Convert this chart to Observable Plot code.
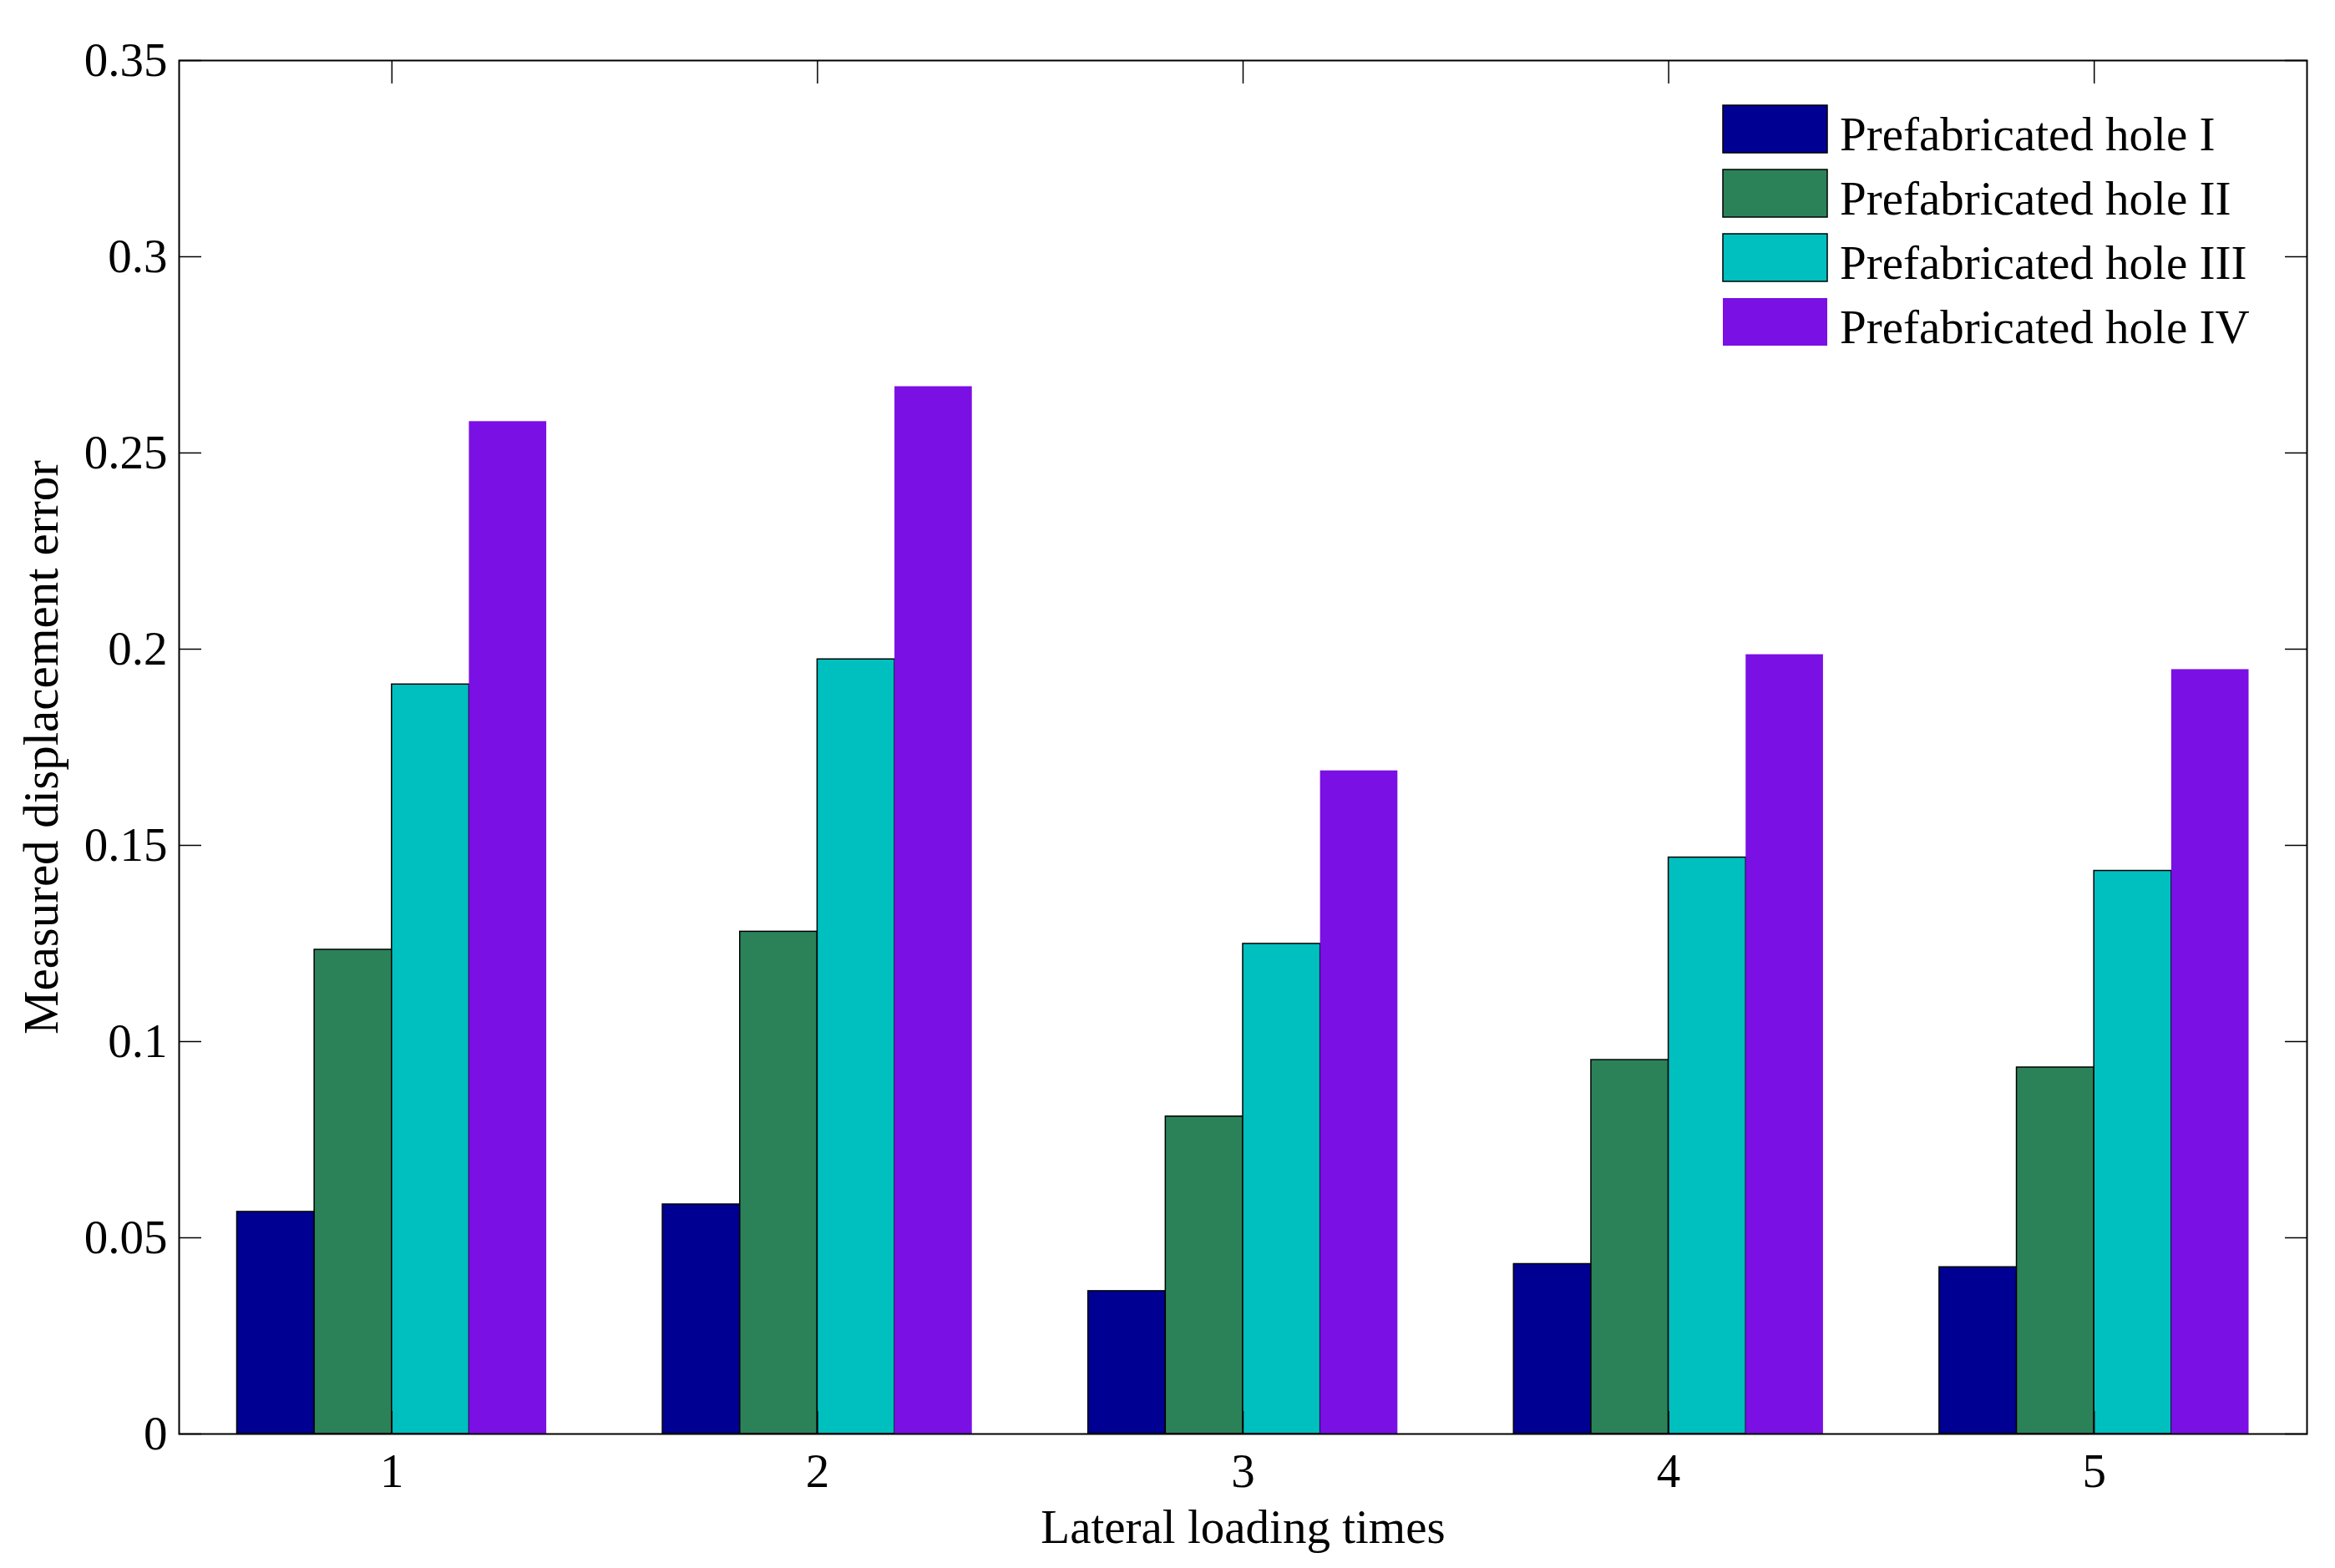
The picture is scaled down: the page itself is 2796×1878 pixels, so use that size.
<!DOCTYPE html>
<html><head><meta charset="utf-8">
<script src="https://cdn.jsdelivr.net/npm/d3@7"></script>
<script src="https://cdn.jsdelivr.net/npm/@observablehq/plot@0.6"></script>
<style>html,body{margin:0;padding:0;background:#fff}</style>
</head><body><div id="chart"></div>
<script>
const loadingTimes = [1, 2, 3, 4, 5];
const seriesNames = ["Prefabricated hole I", "Prefabricated hole II", "Prefabricated hole III", "Prefabricated hole IV"];
const seriesColors = ["#000092", "#2B8259", "#00BFBF", "#7A10E3"];
const holeI = [0.0566, 0.0585, 0.0364, 0.0433, 0.0425];
const holeII = [0.1234, 0.1280, 0.0809, 0.0953, 0.0934];
const holeIII = [0.1910, 0.1974, 0.1249, 0.1469, 0.1435];
const holeIV = [0.2580, 0.2669, 0.1690, 0.1986, 0.1948];
const yTicks = [0, 0.05, 0.1, 0.15, 0.2, 0.25, 0.3, 0.35];
const yTickLabels = ["0", "0.05", "0.1", "0.15", "0.2", "0.25", "0.3", "0.35"];
const xLabel = "Lateral loading times";
const yLabel = "Measured displacement error";

const seriesValues = [holeI, holeII, holeIII, holeIV];
const nS = seriesNames.length;
const groupWidth = Math.min(0.8, nS / (nS + 1.5));
const barW = groupWidth / nS;
const table = [];
seriesValues.forEach((vals, si) => vals.forEach((v, gi) => {
  const x1 = loadingTimes[gi] - groupWidth / 2 + si * barW;
  table.push({series: seriesNames[si], si, x1, x2: x1 + barW, value: v});
}));

const font = "'Liberation Serif','Times New Roman',serif";
const FS = 57;

function legendMark(index, scales, values, dims) {
  const g = d3.create("svg:g");
  const x0 = dims.width - dims.marginRight - 699;
  const y0 = dims.marginTop + 54;
  seriesNames.forEach((name, i) => {
    const y = y0 + i * 77;
    g.append("rect").attr("x", x0).attr("y", y).attr("width", 125).attr("height", 57)
      .attr("fill", seriesColors[i]).attr("stroke", i < 3 ? "#000" : "none").attr("stroke-width", 1.5);
    g.append("text").attr("x", x0 + 140).attr("y", y + 54).attr("font-size", FS)
      .attr("text-anchor", "start").attr("fill", "#000").text(name);
  });
  return g.node();
}

const chart = Plot.plot({
  width: 2796, height: 1878,
  marginLeft: 214, marginRight: 34, marginTop: 72, marginBottom: 161,
  style: {fontFamily: font, fontSize: FS + "px", color: "#000", background: "#fff"},
  x: {domain: [0.5, 5.5]},
  y: {domain: [0, 0.35]},
  color: {domain: seriesNames, range: seriesColors},
  marks: [
    Plot.rectY(table.filter(d => d.si < 3), {x1: "x1", x2: "x2", y1: 0, y2: "value", fill: "series", stroke: "#000", strokeWidth: 1.5}),
    Plot.rectY(table.filter(d => d.si === 3), {x1: "x1", x2: "x2", y1: 0, y2: "value", fill: "series"}),
    Plot.axisY({anchor: "left", ticks: yTicks, tickSize: 0, tickPadding: 14, label: null,
      tickFormat: d => yTickLabels[yTicks.indexOf(d)]}),
    Plot.axisY({anchor: "left", ticks: yTicks, tickSize: -27, fill: "none", label: null, strokeWidth: 1.5}),
    Plot.axisY({anchor: "right", ticks: yTicks, tickSize: -27, fill: "none", label: null, strokeWidth: 1.5}),
    Plot.axisX({anchor: "bottom", ticks: loadingTimes, tickSize: 0, tickPadding: 23, label: null,
      tickFormat: d => String(d)}),
    Plot.axisX({anchor: "top", ticks: loadingTimes, tickSize: -27, fill: "none", label: null, strokeWidth: 1.5}),
    Plot.axisX({anchor: "bottom", ticks: loadingTimes, tickSize: -27, fill: "none", label: null, strokeWidth: 1.5}),
    Plot.frame({stroke: "#000", strokeWidth: 2}),
    Plot.text([xLabel], {frameAnchor: "bottom", dy: 130, lineAnchor: "bottom", textAnchor: "middle", fontSize: FS, fill: "#000"}),
    Plot.text([yLabel], {frameAnchor: "left", dx: -164, rotate: -90, lineAnchor: "middle", textAnchor: "middle", fontSize: 59, fill: "#000"}),
    legendMark
  ]
});
document.getElementById("chart").appendChild(chart);
</script>
</body></html>
